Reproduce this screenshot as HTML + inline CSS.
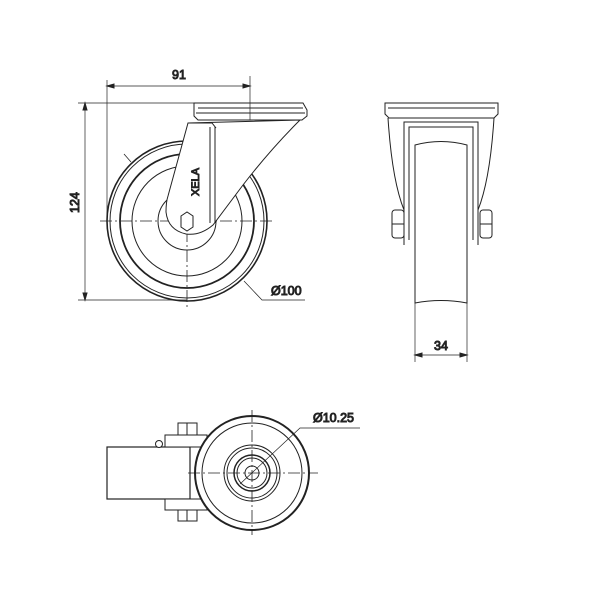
<!DOCTYPE html>
<html><head><style>body{margin:0;background:#fff}svg{display:block}text{font-family:"Liberation Sans",sans-serif;font-size:12.5px;fill:#222}</style></head><body>
<svg width="600" height="600" viewBox="0 0 600 600" fill="none" stroke="#222" stroke-width="1">
<!-- Front view -->
<g>
<circle cx="187" cy="221" r="80" stroke-width="1.6"/>
<circle cx="187" cy="221" r="77"/>
<circle cx="187" cy="221" r="67" stroke-width="1.8"/>
<circle cx="187" cy="221" r="55"/>
<circle cx="187" cy="221" r="29"/>
<line x1="100" y1="221" x2="275" y2="221" stroke-dasharray="12,3,2,3" stroke-width="0.8"/>
<line x1="187" y1="130" x2="187" y2="310" stroke-dasharray="12,3,2,3" stroke-width="0.8"/>
<path d="M188,123 L300,120 Q270,150 243,185 Q228,205 213,225 Q200,236 186,234 Q168,230 166,212 Q166,202 168,196 Z" fill="#fff"/>
<line x1="210" y1="127" x2="210" y2="223"/>
<line x1="215" y1="127" x2="215" y2="223"/>
<path d="M188,123 L212,123 L216,128"/>
<path d="M194,103 L303,103 L307,110 L307,116 L302,120 L198,120 L194,116 Z" fill="#fff"/>
<line x1="198" y1="108" x2="303" y2="108"/><line x1="196" y1="113" x2="305" y2="113"/>
<polygon points="181,216 187,212 193,216 193,227 187,231 181,227" fill="#fff"/>
<text x="199" y="196" transform="rotate(-90 199 196)" style="font-size:11px">XELA</text>
<!-- dims -->
<line x1="107" y1="80" x2="107" y2="221" stroke-width="0.7"/>
<line x1="250" y1="76" x2="250" y2="120" stroke-width="0.7"/>
<line x1="107" y1="86" x2="250" y2="86" stroke-width="0.7"/>
<path d="M107,86 l7,-2 v4z M250,86 l-7,-2 v4z" fill="#222"/>
<text x="172" y="79">91</text>
<line x1="78" y1="103" x2="240" y2="103" stroke-width="0.7"/>
<line x1="78" y1="300" x2="187" y2="300" stroke-width="0.7"/>
<line x1="85" y1="103" x2="85" y2="300" stroke-width="0.7"/>
<path d="M85,103 l-2,7 h4z M85,300 l-2,-7 h4z" fill="#222"/>
<text x="79" y="213" transform="rotate(-90 79 213)">124</text>
<line x1="124" y1="154" x2="131" y2="162" stroke-width="0.8"/>
<path d="M244,281 L262,300 L305,300" stroke-width="0.7"/>
<text x="271" y="295">Ø100</text>
</g>
<!-- Side view -->
<g>
<path d="M404,245 L404,122 L478,122 L478,245" />
<path d="M409,240 L409,127 L473,127 L473,240"/>
<path d="M388,118 Q392,180 404,210 M494,118 Q490,180 478,210"/>
<rect x="392" y="210" width="12" height="28" rx="3" fill="#fff"/>
<line x1="392" y1="224" x2="404" y2="224"/>
<rect x="480" y="210" width="12" height="28" rx="3" fill="#fff"/>
<line x1="480" y1="224" x2="492" y2="224"/>
<path d="M415,145 Q441,138 467,145 L467,303 Q441,298 415,303 Z" fill="#fff"/>
<path d="M385,103 L498,103 L498,114 L494,118 L389,118 L385,114 Z" fill="#fff"/>
<line x1="388" y1="108" x2="495" y2="108"/>
<line x1="415" y1="303" x2="415" y2="362" stroke-width="0.7"/>
<line x1="467" y1="303" x2="467" y2="362" stroke-width="0.7"/>
<line x1="415" y1="355" x2="467" y2="355" stroke-width="0.7"/>
<path d="M415,355 l7,-2 v4z M467,355 l-7,-2 v4z" fill="#222"/>
<text x="434" y="350">34</text>
</g>
<!-- Bottom view -->
<g>
<rect x="107" y="447" width="83" height="52" fill="#fff" stroke-width="1.2"/>
<rect x="165" y="435" width="42" height="12" fill="#fff"/>
<rect x="165" y="499" width="42" height="11" fill="#fff"/>
<rect x="178" y="423" width="19" height="12" fill="#fff"/>
<line x1="187" y1="423" x2="187" y2="435"/>
<rect x="178" y="510" width="19" height="11" fill="#fff"/>
<line x1="187" y1="510" x2="187" y2="521"/>
<circle cx="159" cy="444" r="3.5" fill="#fff"/>
<circle cx="252" cy="473" r="57" stroke-width="2" fill="#fff"/>
<circle cx="252" cy="473" r="50"/>
<circle cx="252" cy="473" r="28"/>
<circle cx="252" cy="473" r="25"/>
<circle cx="252" cy="473" r="18" stroke-width="1.5"/>
<circle cx="252" cy="473" r="15"/>
<circle cx="252" cy="473" r="7"/>
<line x1="188" y1="473" x2="318" y2="473" stroke-dasharray="12,3,2,3" stroke-width="0.8"/>
<line x1="252" y1="410" x2="252" y2="535" stroke-dasharray="12,3,2,3" stroke-width="0.8"/>
<path d="M240,484 L300,428 L360,428" stroke-width="0.7"/>
<text x="313" y="422">Ø10.25</text>
</g>
</svg>
</body></html>
